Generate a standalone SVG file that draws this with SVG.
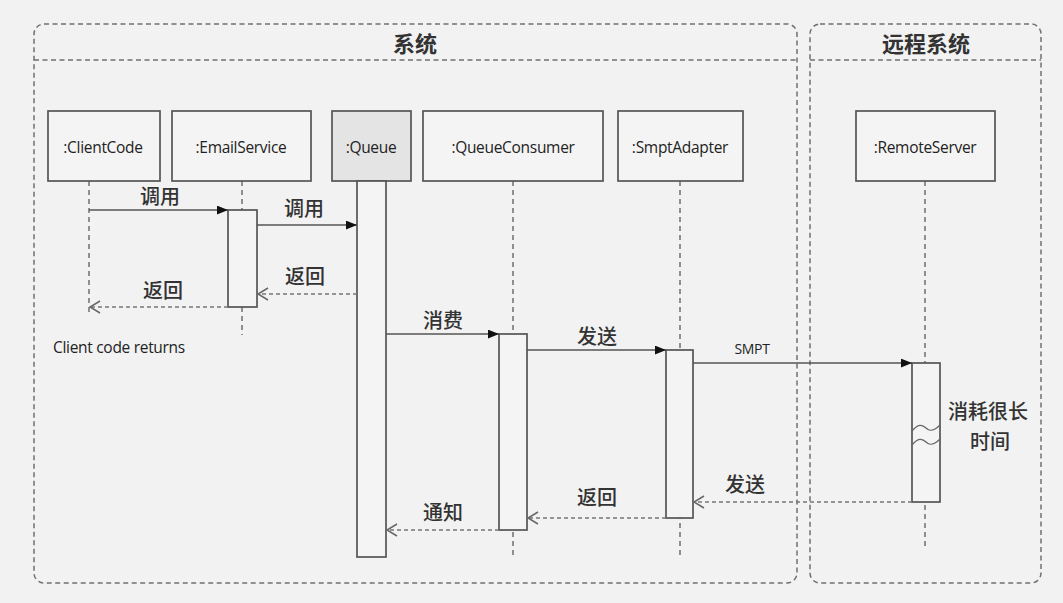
<svg xmlns="http://www.w3.org/2000/svg" width="1063" height="603" viewBox="0 0 1063 603">
<defs>
<style>
.frame{fill:none;stroke:#707070;stroke-width:1.5;stroke-dasharray:5,3.5}
.node{fill:#f4f4f4;stroke:#555;stroke-width:1.7}
.act{fill:#f4f4f4;stroke:#555;stroke-width:1.7}
.life{stroke:#666;stroke-width:1.4;stroke-dasharray:5,4;fill:none}
.msg{stroke:#555;stroke-width:1.6;fill:none}
.ret{stroke:#777;stroke-width:1.5;fill:none;stroke-dasharray:4,3}
.nt{font-family:"Open Sans","Noto Sans",sans-serif;font-size:15.5px;fill:#222;text-anchor:middle;letter-spacing:-0.3px}
.cn{font-family:"Noto Sans CJK SC",sans-serif;font-size:20px;fill:#333;font-weight:500;text-anchor:middle}
.tt{font-family:"Noto Sans CJK SC",sans-serif;font-size:22px;fill:#333;font-weight:bold;text-anchor:middle}
</style>
<marker id="fa" viewBox="0 0 10 8" refX="10" refY="4" markerWidth="11" markerHeight="9" markerUnits="userSpaceOnUse" orient="auto"><path d="M0,0 L10,4 L0,8 z" fill="#111"/></marker>
<marker id="oa" viewBox="0 0 12 14" refX="11" refY="7" markerWidth="12" markerHeight="14" markerUnits="userSpaceOnUse" orient="auto"><path d="M1,1 L11,7 L1,13" fill="none" stroke="#666" stroke-width="1.5"/></marker>
</defs>
<rect width="1063" height="603" fill="#f2f2f2"/>
<g id="frame-system">
<rect class="frame" x="34" y="24" width="763" height="559" rx="10"/>
<line class="frame" x1="34" y1="60" x2="797" y2="60"/>
<text class="tt" x="415" y="52">系统</text>
</g>
<g id="frame-remote">
<rect class="frame" x="810" y="24" width="231" height="559" rx="10"/>
<line class="frame" x1="810" y1="60" x2="1041" y2="60"/>
<text class="tt" x="926" y="52">远程系统</text>
</g>
<g id="lifelines">
<line class="life" x1="89" y1="181" x2="89" y2="316"/>
<line class="life" x1="242" y1="181" x2="242" y2="335"/>
<line class="life" x1="513" y1="181" x2="513" y2="555"/>
<line class="life" x1="680" y1="181" x2="680" y2="555"/>
<line class="life" x1="925" y1="181" x2="925" y2="550"/>
</g>
<g id="node-clientcode">
<rect class="node" x="48" y="111" width="112" height="70"/>
<text class="nt" x="103" y="153">:ClientCode</text>
</g>
<g id="node-emailservice">
<rect class="node" x="172" y="111" width="139" height="70"/>
<text class="nt" x="241" y="153">:EmailService</text>
<rect class="act" x="228" y="210" width="29" height="97"/>
</g>
<g id="node-queue">
<rect class="node" x="332" y="111" width="79" height="70" style="fill:#e4e4e4"/>
<text class="nt" x="371" y="153">:Queue</text>
<rect class="act" x="357" y="181" width="29" height="376"/>
</g>
<g id="node-queueconsumer">
<rect class="node" x="423" y="111" width="180" height="70"/>
<text class="nt" x="513" y="153">:QueueConsumer</text>
<rect class="act" x="499" y="334" width="28" height="196"/>
</g>
<g id="node-smptadapter">
<rect class="node" x="618" y="111" width="125" height="70"/>
<text class="nt" x="680" y="153">:SmptAdapter</text>
<rect class="act" x="666" y="350" width="27" height="168"/>
</g>
<g id="node-remoteserver">
<rect class="node" x="856" y="111" width="139" height="70"/>
<text class="nt" x="925" y="153">:RemoteServer</text>
<rect class="act" x="912" y="363" width="28" height="139"/>
<path d="M912,431 C918,424 922,424 926,428 C930,432 934,431 940,425" fill="none" stroke="#666" stroke-width="1.3"/>
<path d="M912,445 C918,438 922,438 926,442 C930,446 934,445 940,439" fill="none" stroke="#666" stroke-width="1.3"/>
<text class="cn" x="988" y="419">消耗很长</text>
<text class="cn" x="990" y="449">时间</text>
</g>
<g id="connectors">
<line class="msg" x1="89" y1="210" x2="228" y2="210" marker-end="url(#fa)"/>
<line class="msg" x1="257" y1="225" x2="357" y2="225" marker-end="url(#fa)"/>
<line class="ret" x1="357" y1="294" x2="258" y2="294" marker-end="url(#oa)"/>
<line class="ret" x1="228" y1="307" x2="90" y2="307" marker-end="url(#oa)"/>
<line class="msg" x1="386" y1="334" x2="499" y2="334" marker-end="url(#fa)"/>
<line class="msg" x1="527" y1="350" x2="666" y2="350" marker-end="url(#fa)"/>
<line class="msg" x1="693" y1="363" x2="912" y2="363" marker-end="url(#fa)"/>
<line class="ret" x1="912" y1="502" x2="694" y2="502" marker-end="url(#oa)"/>
<line class="ret" x1="666" y1="518" x2="528" y2="518" marker-end="url(#oa)"/>
<line class="ret" x1="499" y1="530" x2="387" y2="530" marker-end="url(#oa)"/>
<text class="cn" x="160" y="204">调用</text>
<text class="cn" x="304" y="216">调用</text>
<text class="cn" x="305" y="284">返回</text>
<text class="cn" x="163" y="298">返回</text>
<text class="cn" x="443" y="328">消费</text>
<text class="cn" x="597" y="344">发送</text>
<text class="nt" x="752" y="354" style="font-size:14px">SMPT</text>
<text class="cn" x="745" y="492">发送</text>
<text class="cn" x="597" y="505">返回</text>
<text class="cn" x="443" y="520">通知</text>
<text class="nt" x="53" y="353" style="text-anchor:start">Client code returns</text>
</g>
</svg>
